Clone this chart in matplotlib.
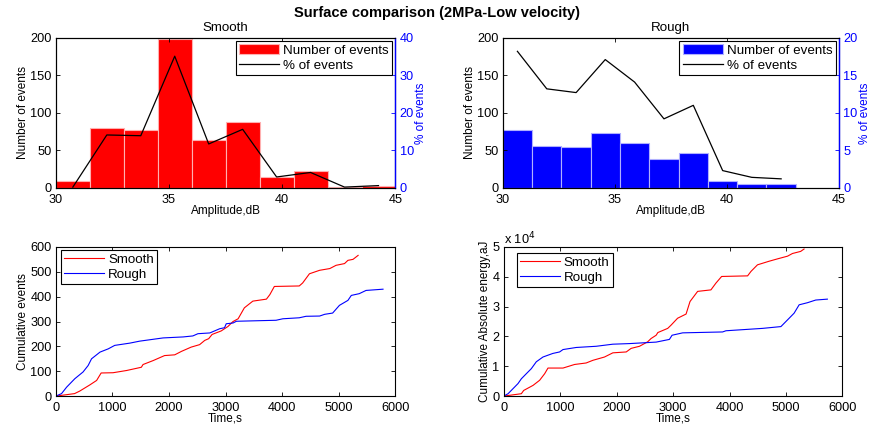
import matplotlib.pyplot as plt
import numpy as np
import matplotlib
from matplotlib.ticker import FuncFormatter

plt.rc('font', **{'family': 'sans-serif', 'sans-serif': ['Liberation Sans', 'DejaVu Sans']})
fs = 8.5      # axis labels
tfs = 9.2     # tick labels
lfs = 9.6     # legends / titles

# amplitude histograms (bin centres, counts, % of events)
smooth_centers = [30.75, 32.25, 33.75, 35.25, 36.75, 38.25, 39.75, 41.25, 42.75, 44.25]
smooth_counts = [9, 80, 77, 199, 64, 88, 15, 22, 1, 3]
smooth_pct = [0.2, 14.1, 13.9, 35.1, 11.7, 15.6, 2.9, 4.1, 0.2, 0.6]

rough_centers = [30.65, 31.96, 33.27, 34.57, 35.88, 37.19, 38.50, 39.81, 41.11, 42.42]
rough_counts = [77, 56, 54, 73, 60, 38, 46, 9, 5, 5]
rough_pct = [18.2, 13.2, 12.7, 17.1, 14.1, 9.2, 11.0, 2.3, 1.4, 1.2]

# cumulative events vs time
ev_smooth_t = [0, 330, 420, 600, 720, 800, 1010, 1250, 1510, 1540, 1720, 1920, 2100, 2220, 2390,
               2540, 2630, 2700, 2760, 2920, 3040, 3130, 3220, 3330, 3480, 3720, 3780, 3860, 4300,
               4360, 4480, 4660, 4840, 4950, 5100, 5160, 5250, 5340]
ev_smooth = [0, 10, 20, 45, 63, 93, 94, 103, 116, 127, 143, 163, 166, 180, 197,
             207, 224, 231, 248, 262, 280, 300, 311, 355, 382, 390, 408, 441, 443,
             455, 492, 506, 513, 526, 533, 546, 550, 566]
ev_rough_t = [0, 100, 190, 335, 480, 570, 630, 780, 925, 1040, 1305, 1480, 1895, 2250, 2420,
              2510, 2720, 2895, 2980, 3010, 3130, 3190, 3890, 4010, 4300, 4420, 4660, 4750,
              4890, 5010, 5160, 5220, 5360, 5480, 5780]
ev_rough = [0, 10, 36, 70, 97, 123, 150, 177, 190, 204, 213, 221, 234, 238, 242,
            251, 254, 271, 275, 291, 294, 301, 305, 311, 315, 321, 322, 329,
            334, 365, 385, 405, 412, 425, 430]

# cumulative absolute energy vs time (x 1e4 aJ)
en_smooth_t = [0, 312, 354, 520, 636, 725, 784, 1050, 1255, 1460, 1580, 1785, 1933, 2170, 2257,
               2405, 2550, 2610, 2700, 2730, 2905, 2965, 3080, 3230, 3300, 3435, 3670, 3760,
               3860, 4320, 4380, 4495, 4700, 4850, 5027, 5115, 5260, 5320]
en_smooth = [0, 0.08, 0.19, 0.36, 0.53, 0.75, 0.94, 0.94, 1.06, 1.11, 1.20, 1.31, 1.45, 1.48, 1.60,
             1.67, 1.82, 1.93, 2.04, 2.13, 2.27, 2.38, 2.61, 2.75, 3.17, 3.51, 3.56, 3.79,
             4.01, 4.03, 4.18, 4.40, 4.52, 4.60, 4.69, 4.78, 4.85, 4.93]
en_rough_t = [0, 77, 165, 253, 312, 400, 489, 577, 695, 870, 990, 1050, 1285, 1638, 1933,
              2228, 2700, 2935, 2982, 3170, 3877, 3936, 4585, 4910, 5056, 5144, 5233, 5380,
              5527, 5733]
en_rough = [0, 0.08, 0.25, 0.42, 0.58, 0.75, 0.92, 1.15, 1.31, 1.43, 1.48, 1.56, 1.63, 1.67, 1.74,
            1.76, 1.81, 1.90, 2.04, 2.12, 2.15, 2.19, 2.27, 2.33, 2.61, 2.78, 3.06, 3.13,
            3.22, 3.25]

fig = plt.figure(figsize=(8.73, 4.25), dpi=100)
legkw = dict(fontsize=lfs, fancybox=False, edgecolor='k', framealpha=1, borderpad=0.25,
             handlelength=3.0, labelspacing=0.2, handletextpad=0.3)


def style(ax):
    ax.tick_params(direction='in', top=True, labelsize=tfs, length=3, width=0.6)
    ax.tick_params(axis='x', pad=4.5)
    ax.tick_params(axis='y', pad=3)
    for s in ax.spines.values():
        s.set_linewidth(0.8)


def hist_panel(rect, centers, counts, pct, color, edge, pmax, title):
    ax = fig.add_axes(rect)
    w = centers[1] - centers[0]
    bars = ax.bar(centers, counts, width=w, color=color, edgecolor=edge, linewidth=0.8)
    ax.set_xlim(30, 45)
    ax.set_ylim(0, 200)
    ax.set_xticks([30, 35, 40, 45])
    ax.set_yticks([0, 50, 100, 150, 200])
    style(ax)
    ax.tick_params(right=False)
    ax.set_xlabel('Amplitude,dB', fontsize=fs, labelpad=-1)
    ax.set_ylabel('Number of events', fontsize=fs, labelpad=1)
    ax.set_title(title, fontsize=lfs, pad=5)
    ax2 = ax.twinx()
    line, = ax2.plot(centers, pct, color='k', lw=0.9)
    ax2.set_ylim(0, pmax)
    ax2.set_yticks(np.linspace(0, pmax, 5))
    ax2.tick_params(direction='in', labelsize=tfs, colors='#0000ff', length=3, width=0.6, pad=3)
    ax2.spines['right'].set_color('#0000ff')
    ax2.spines['right'].set_linewidth(1.0)
    ax2.set_ylabel('% of events', fontsize=fs, color='#0000ff', labelpad=1)
    leg = ax2.legend([bars, line], ['Number of events', '% of events'], loc='upper right',
                     borderaxespad=0.25, **legkw)
    leg.get_frame().set_linewidth(0.8)
    return ax


hist_panel([0.064, 0.558, 0.389, 0.353], smooth_centers, smooth_counts, smooth_pct,
           '#ff0000', '#ffb0b0', 40, 'Smooth')
hist_panel([0.576, 0.558, 0.385, 0.353], rough_centers, rough_counts, rough_pct,
           '#0000ff', '#b0b0ff', 20, 'Rough')

# cumulative events
ax = fig.add_axes([0.064, 0.068, 0.389, 0.351])
ax.plot(ev_smooth_t, ev_smooth, color='#ff0000', lw=0.8, label='Smooth')
ax.plot(ev_rough_t, ev_rough, color='#0000ff', lw=0.8, label='Rough')
ax.set_xlim(0, 6000)
ax.set_ylim(0, 600)
ax.set_xticks(range(0, 6001, 1000))
ax.set_yticks(range(0, 601, 100))
style(ax)
ax.tick_params(right=True)
ax.set_xlabel('Time,s', fontsize=fs, labelpad=-1)
ax.set_ylabel('Cumulative events', fontsize=fs, labelpad=1)
leg = ax.legend(loc='upper left', bbox_to_anchor=(0.015, 0.98), borderaxespad=0, **legkw)
leg.get_frame().set_linewidth(0.8)

# cumulative energy
ax = fig.add_axes([0.577, 0.068, 0.388, 0.351])
ax.plot(en_smooth_t, np.array(en_smooth) * 1e4, color='#ff0000', lw=0.8, label='Smooth')
ax.plot(en_rough_t, np.array(en_rough) * 1e4, color='#0000ff', lw=0.8, label='Rough')
ax.set_xlim(0, 6000)
ax.set_ylim(0, 5e4)
ax.set_xticks(range(0, 6001, 1000))
ax.set_yticks(np.arange(0, 5.01e4, 1e4))
ax.yaxis.set_major_formatter(FuncFormatter(lambda v, p: '%d' % round(v / 1e4)))
ax.text(0.0, 1.0, r'x 10$^{4}$', transform=ax.transAxes, fontsize=tfs, va='bottom', ha='left')
style(ax)
ax.tick_params(right=True)
ax.set_xlabel('Time,s', fontsize=fs, labelpad=-1)
ax.set_ylabel('Cumulative Absolute energy,aJ', fontsize=fs, labelpad=1)
leg = ax.legend(loc='upper left', bbox_to_anchor=(0.038, 0.96), borderaxespad=0, **legkw)
leg.get_frame().set_linewidth(0.8)

fig.suptitle('Surface comparison (2MPa-Low velocity)', fontsize=10.5, fontweight='bold', y=0.985)

plt.savefig('out.png', dpi=100)
